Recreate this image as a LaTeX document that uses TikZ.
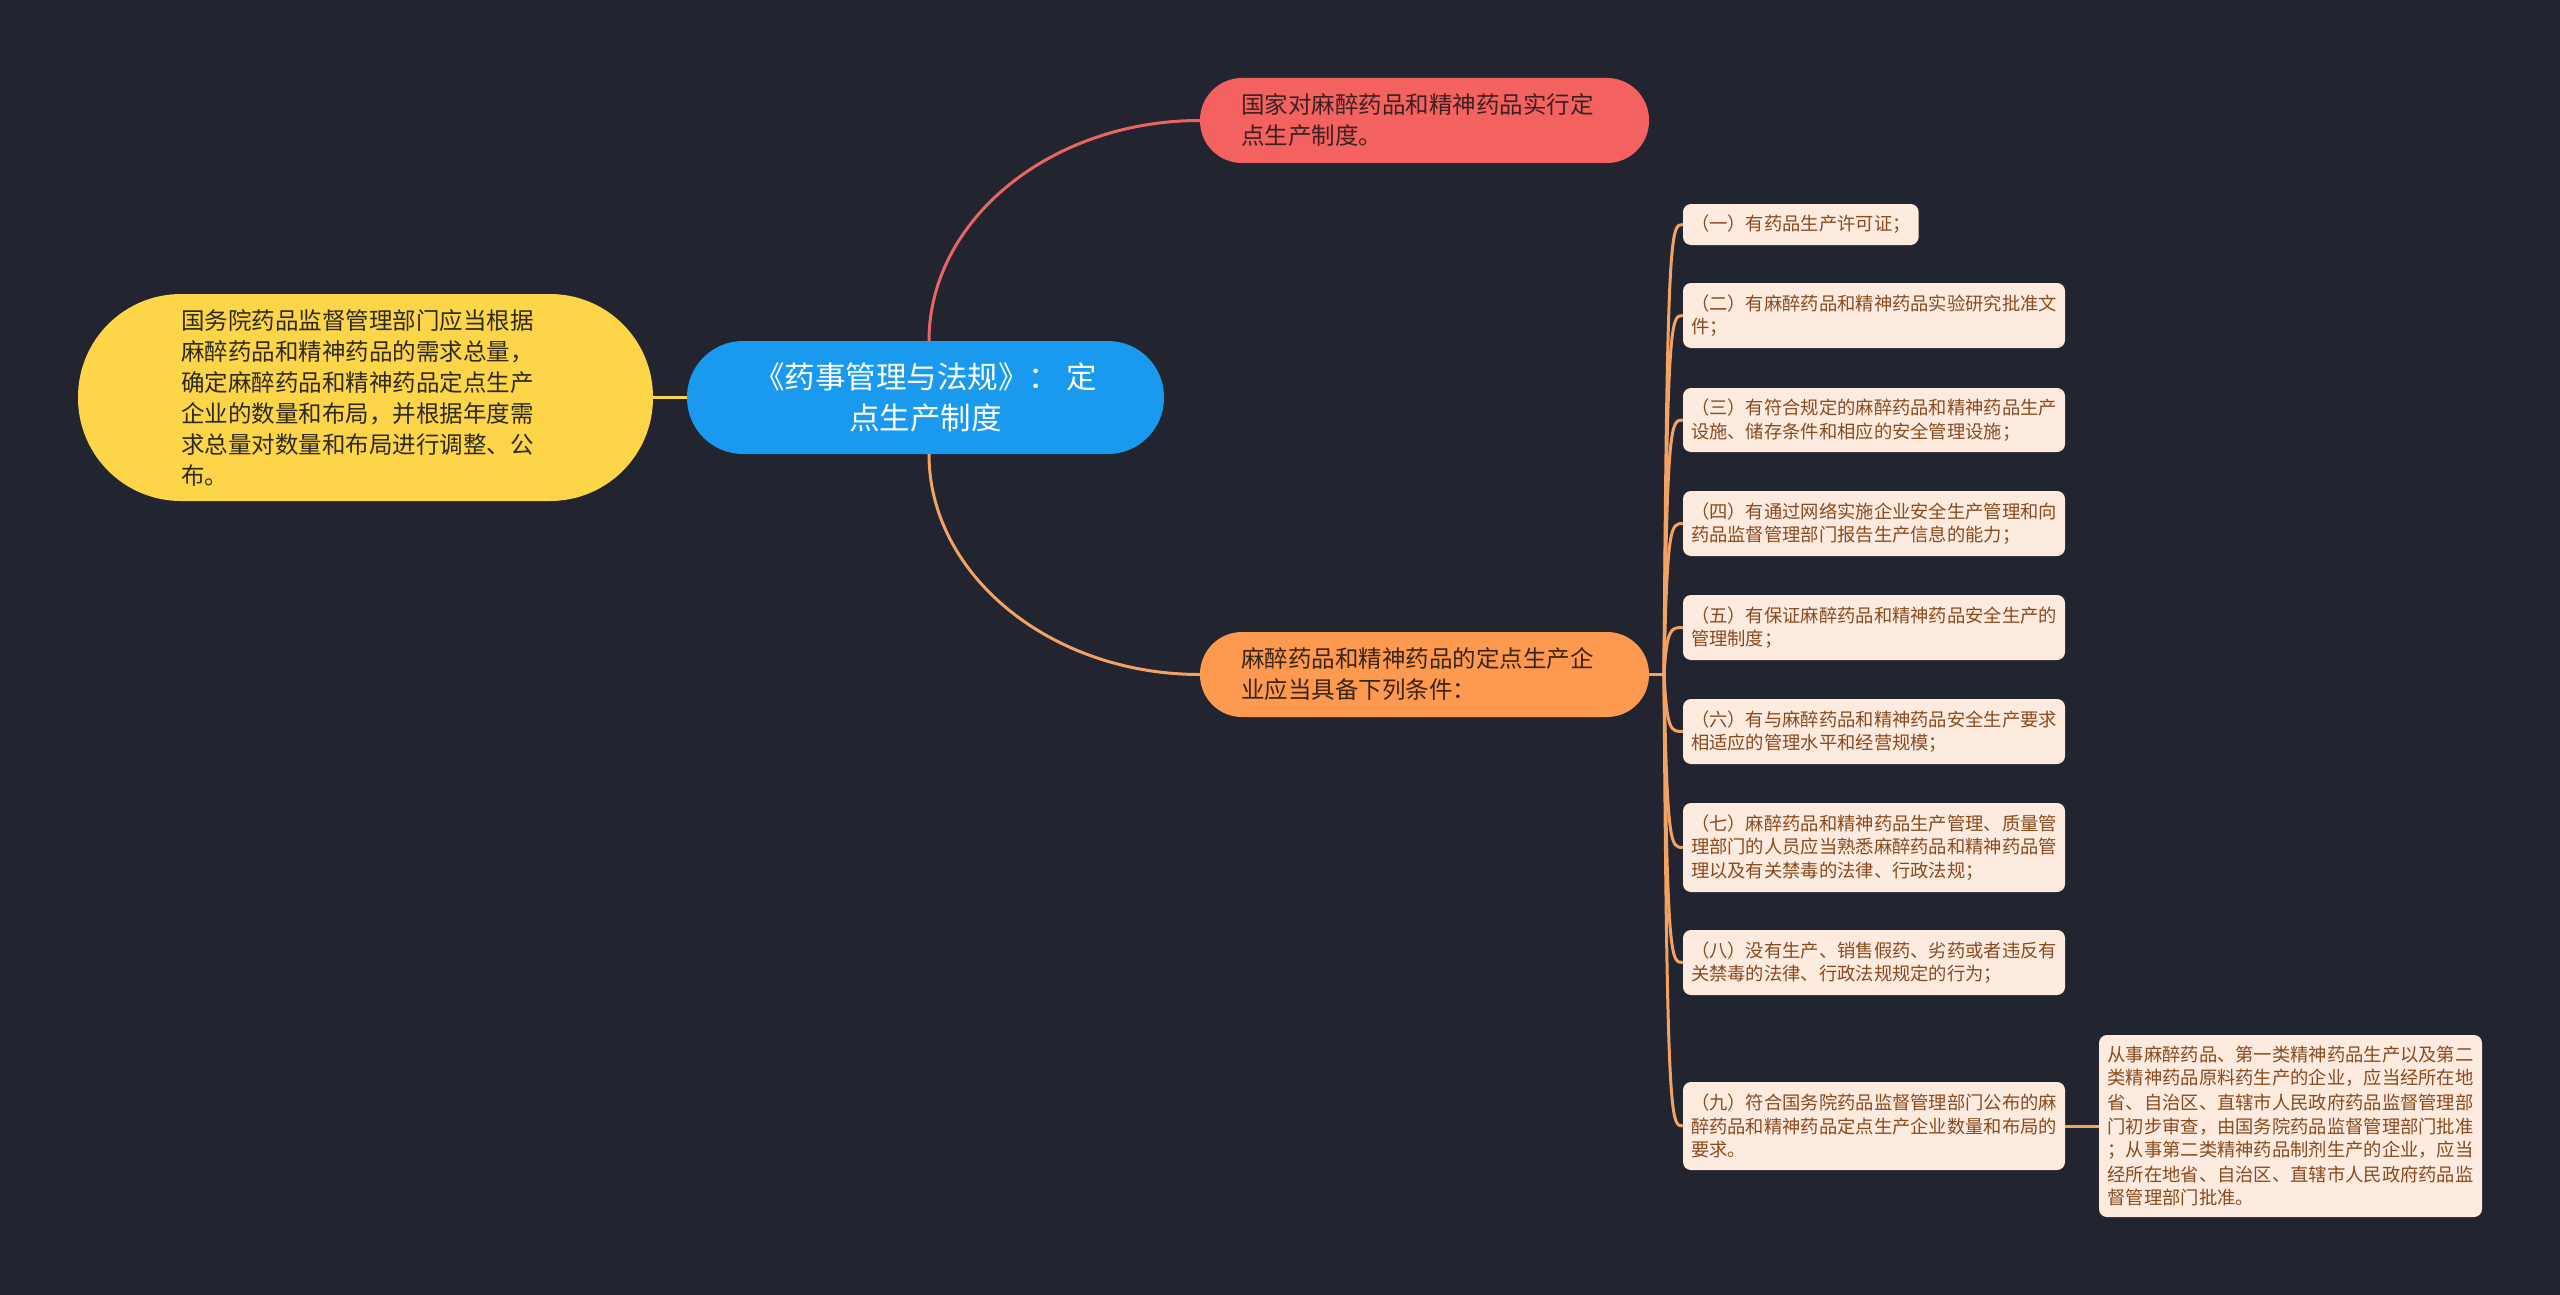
\documentclass[tikz,border=0pt]{standalone}
\usepackage{fontspec}
\setmainfont{Noto Sans CJK SC}
\definecolor{bg}{HTML}{22242F}
\definecolor{bluec}{HTML}{1A9AEF}
\definecolor{redc}{HTML}{F36161}
\definecolor{orangec}{HTML}{FD9A50}
\definecolor{yellowc}{HTML}{FCD548}
\definecolor{leaffill}{HTML}{FDEBDF}
\definecolor{leaftext}{HTML}{8A4A1E}
\definecolor{redline}{HTML}{E96565}
\definecolor{orangeline}{HTML}{F2A263}
\definecolor{darktext}{HTML}{2E2A22}
\definecolor{redtext}{HTML}{3D2020}
\definecolor{orangetext}{HTML}{3A2414}
\tikzset{
  mainnode/.style={rectangle, inner sep=0pt, align=left, font=\fontsize{23.5}{31}\selectfont},
  leaf/.style={rectangle, rounded corners=8pt, fill=leaffill, text=leaftext, inner xsep=8pt, inner ysep=0pt, align=left, text width=366pt, minimum height=65pt, font=\fontsize{18.3}{23.5}\selectfont},
  link/.style={line width=3pt},
}
\begin{document}
\begin{tikzpicture}[x=1pt,y=-1pt]
\useasboundingbox (0,0) rectangle (2560,1295);
\fill[bg] (0,0) rectangle (2560,1295);

% central
\node[rectangle, inner sep=0pt, fill=bluec, text=white, align=center, minimum width=477pt, minimum height=113pt, rounded corners=56pt, font=\fontsize{30.5}{41}\selectfont] (central) at (925.5,397.5) {《药事管理与法规》： 定\\点生产制度};

% yellow
\node[mainnode, fill=yellowc, text=darktext, minimum width=575pt, minimum height=207pt, rounded corners=103pt, text width=369pt] (yellow) at (365.5,397.5) {国务院药品监督管理部门应当根据\\麻醉药品和精神药品的需求总量，\\确定麻醉药品和精神药品定点生产\\企业的数量和布局，并根据年度需\\求总量对数量和布局进行调整、公\\布。};

% red
\node[mainnode, fill=redc, text=redtext, minimum width=449pt, minimum height=85pt, rounded corners=42pt, text width=367pt] (red) at (1424.5,120.5) {国家对麻醉药品和精神药品实行定\\点生产制度。};

% orange
\node[mainnode, fill=orangec, text=orangetext, minimum width=449pt, minimum height=85pt, rounded corners=42pt, text width=367pt] (orange) at (1424.5,674.5) {麻醉药品和精神药品的定点生产企\\业应当具备下列条件：};

% leaves
\node[leaf, minimum height=41pt, text width=219.6pt] (l1) at (1800.8,224.5) {（一）有药品生产许可证；};
\node[leaf] (l2) at (1874,315.5) {（二）有麻醉药品和精神药品实验研究批准文\\件；};
\node[leaf, minimum height=64pt] (l3) at (1874,420) {（三）有符合规定的麻醉药品和精神药品生产\\设施、储存条件和相应的安全管理设施；};
\node[leaf] (l4) at (1874,523.5) {（四）有通过网络实施企业安全生产管理和向\\药品监督管理部门报告生产信息的能力；};
\node[leaf] (l5) at (1874,627.5) {（五）有保证麻醉药品和精神药品安全生产的\\管理制度；};
\node[leaf] (l6) at (1874,731.5) {（六）有与麻醉药品和精神药品安全生产要求\\相适应的管理水平和经营规模；};
\node[leaf, minimum height=89pt] (l7) at (1874,847.5) {（七）麻醉药品和精神药品生产管理、质量管\\理部门的人员应当熟悉麻醉药品和精神药品管\\理以及有关禁毒的法律、行政法规；};
\node[leaf] (l8) at (1874,962.5) {（八）没有生产、销售假药、劣药或者违反有\\关禁毒的法律、行政法规规定的行为；};
\node[leaf, minimum height=88pt] (l9) at (1874,1126) {（九）符合国务院药品监督管理部门公布的麻\\醉药品和精神药品定点生产企业数量和布局的\\要求。};

\node[leaf, inner xsep=8.5pt, minimum height=182pt, font=\fontsize{18.3}{24}\selectfont] (detail) at (2290.5,1126) {从事麻醉药品、第一类精神药品生产以及第二\\类精神药品原料药生产的企业，应当经所在地\\省、自治区、直辖市人民政府药品监督管理部\\门初步审查，由国务院药品监督管理部门批准\\；从事第二类精神药品制剂生产的企业，应当\\经所在地省、自治区、直辖市人民政府药品监\\督管理部门批准。};

% connectors
\draw[link, yellowc] (yellow.east) -- (central.west);
\draw[link, redline] ([xshift=3.5pt]central.north) .. controls +(0,-121) and +(-149,0) .. (red.west);
\draw[link, orangeline] ([xshift=3.5pt]central.south) .. controls +(0,121) and +(-149,0) .. (orange.west);

\coordinate (j) at (1664,674.5);
\coordinate (j1) at (1667,674.5);
\coordinate (j2) at (1671,674.5);
\draw[link, orangeline] (orange.east) -- (j);
\foreach \n in {l1,l2,l3,l4,l5,l6,l7,l8,l9}{
  \draw[link, orangeline] (j) .. controls (j1 |- \n.west) and (j2 |- \n.west) .. (\n.west);
}
\draw[link, orangeline] (l9.east) -- (detail.west);
\end{tikzpicture}
\end{document}
